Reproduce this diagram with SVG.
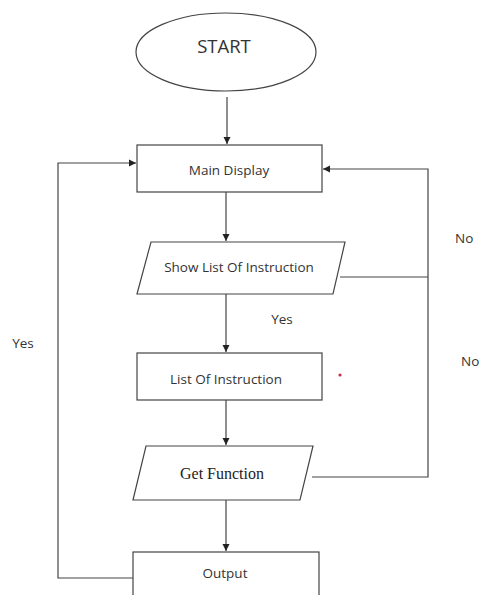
<svg xmlns="http://www.w3.org/2000/svg" width="482" height="595" viewBox="0 0 482 595">
<style>
.shape{fill:#fff;stroke:#444;stroke-width:1.2}
.line{fill:none;stroke:#444;stroke-width:1.2}
.t{font-family:"Open Sans","Liberation Sans",sans-serif;font-size:13.5px;fill:#333;text-anchor:middle;dominant-baseline:central}
.s{font-family:"Liberation Serif",serif;font-size:16px;fill:#222;text-anchor:middle;dominant-baseline:central}
</style>
<defs>
<marker id="arr" markerWidth="8" markerHeight="8" refX="7" refY="4" orient="auto" markerUnits="userSpaceOnUse">
<path d="M0,0.5 L7,4 L0,7.5 Z" fill="#222"/>
</marker>
</defs>
<rect width="482" height="595" fill="#fff"/>
<g id="connectors">
<line class="line" x1="227" y1="97" x2="227" y2="144" marker-end="url(#arr)"/>
<line class="line" x1="226" y1="192" x2="226" y2="241" marker-end="url(#arr)"/>
<line class="line" x1="226" y1="294" x2="226" y2="352" marker-end="url(#arr)"/>
<line class="line" x1="226" y1="400" x2="226" y2="445" marker-end="url(#arr)"/>
<line class="line" x1="226" y1="500" x2="226" y2="551" marker-end="url(#arr)"/>
<polyline class="line" points="340,277 428,277"/>
<polyline class="line" points="312,477 428,477 428,169 323,169" marker-end="url(#arr)"/>
<polyline class="line" points="133,578 58,578 58,163 136,163" marker-end="url(#arr)"/>
</g>
<g id="start">
<ellipse class="shape" cx="226" cy="52" rx="90" ry="39"/>
<text class="t" x="224" y="45" style="font-size:18.5px">START</text>
</g>
<g id="main-display">
<rect class="shape" x="137" y="145" width="185" height="47"/>
<text class="t" x="229" y="170">Main Display</text>
</g>
<g id="show-list">
<polygon class="shape" points="151,242 345,242 333,294 137,294"/>
<text class="t" x="239" y="267">Show List Of Instruction</text>
</g>
<g id="list-instruction">
<rect class="shape" x="137" y="353" width="185" height="47"/>
<text class="t" x="226" y="379">List Of Instruction</text>
<circle cx="340" cy="375" r="1.6" fill="#c0304a"/>
</g>
<g id="get-function">
<polygon class="shape" points="146,446 313,446 300,500 133,500"/>
<text class="s" x="222" y="473">Get Function</text>
</g>
<g id="output">
<rect class="shape" x="133" y="552" width="186" height="60"/>
<text class="t" x="225" y="573">Output</text>
</g>
<g id="labels">
<text class="t" x="282" y="319">Yes</text>
<text class="t" x="23" y="343">Yes</text>
<text class="t" x="455" y="238" style="text-anchor:start">No</text>
<text class="t" x="461" y="361" style="text-anchor:start">No</text>
</g>
</svg>
